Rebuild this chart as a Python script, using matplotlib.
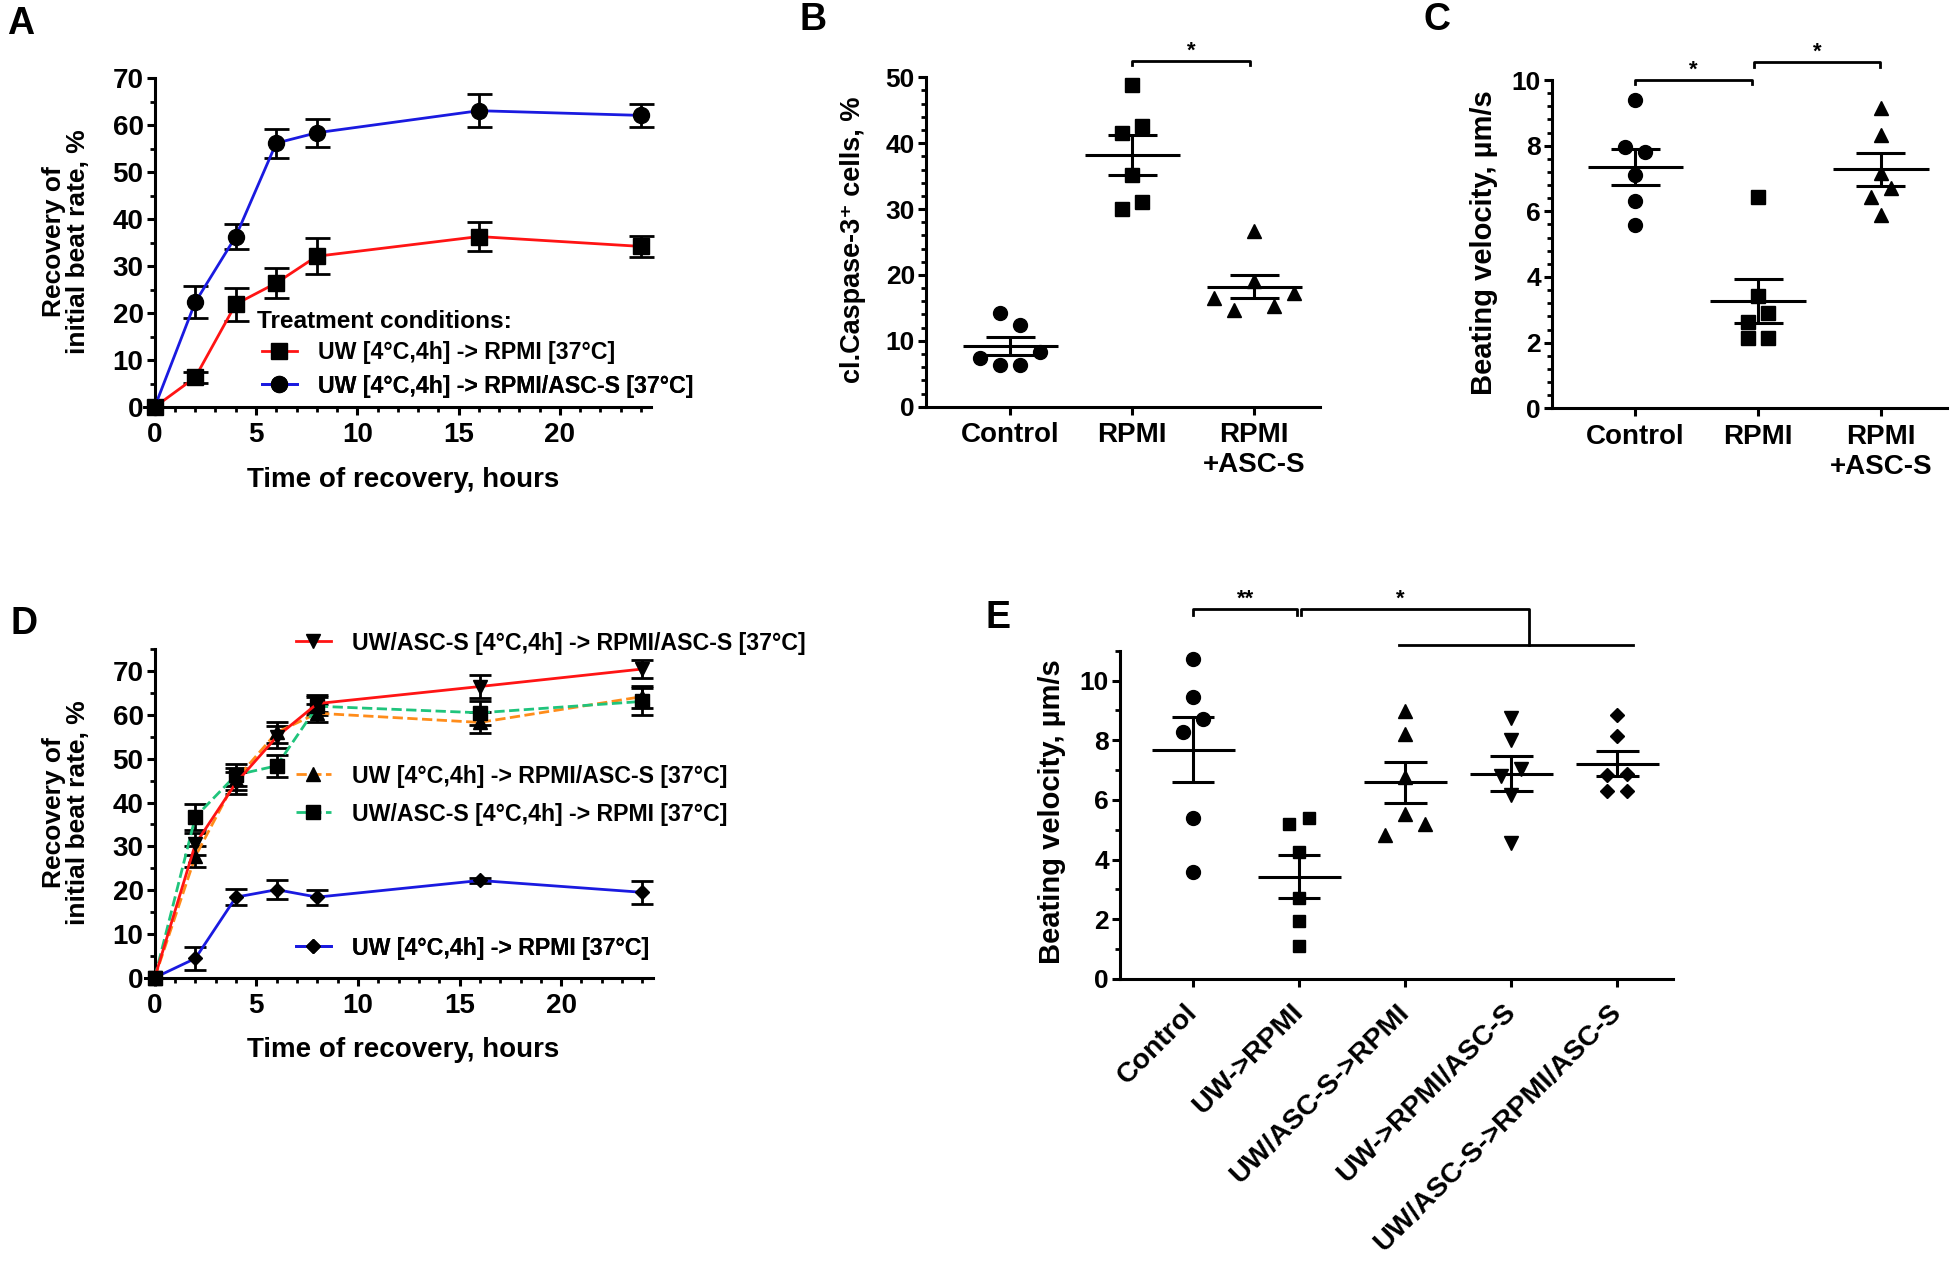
import numpy as np
import matplotlib
matplotlib.use("Agg")
import matplotlib.pyplot as plt
from matplotlib.ticker import MultipleLocator, AutoMinorLocator

plt.rcParams["font.family"] = ["Liberation Sans", "DejaVu Sans"]
plt.rcParams["font.weight"] = "bold"
plt.rcParams["axes.labelweight"] = "bold"

# %%
# Data (means / SEM for the time courses, single
# wells for the dot plots).
hours = [0, 2, 4, 6, 8, 16, 24]

# panel A
a_rpmi = [0, 6.3, 21.9, 26.4, 32.1, 36.3, 34.2]
a_rpmi_sem = [0, 1.2, 3.5, 3.1, 3.8, 3.1, 2.3]
a_asc = [0, 22.3, 36.3, 56.2, 58.4, 63.1, 62.1]
a_asc_sem = [0, 3.4, 2.7, 3.1, 3.0, 3.5, 2.5]
a_labels = ["UW [4°C,4h] -> RPMI [37°C]", "UW [4°C,4h] -> RPMI/ASC-S [37°C]"]

# panel B: cleaved caspase-3 positive cells, %
b_groups = ["Control", "RPMI", "RPMI\n+ASC-S"]
b_control = [14.2, 12.4, 7.4, 6.3, 6.3, 8.35]
b_rpmi = [48.8, 41.5, 42.6, 35.2, 30.0, 31.1]
b_asc = [26.6, 16.5, 14.7, 19.1, 15.3, 17.2]

# panel C: beating velocity, um/s
c_groups = ["Control", "RPMI", "RPMI\n+ASC-S"]
c_control = [9.39, 7.97, 7.82, 7.11, 6.31, 5.58]
c_rpmi = [6.45, 3.42, 2.64, 2.89, 2.13, 2.13]
c_asc = [9.14, 8.32, 7.16, 6.45, 6.70, 5.89]

# panel D
d_asc_asc = [0, 30.5, 44.5, 55.0, 62.6, 66.5, 70.5]
d_asc_asc_sem = [0, 2.5, 2.5, 2.5, 2.0, 2.6, 2.0]
d_uw_asc = [0, 27.7, 45.3, 56.0, 60.4, 58.3, 64.2]
d_uw_asc_sem = [0, 2.4, 2.5, 2.5, 2.0, 2.4, 2.5]
d_asc_rpmi = [0, 36.7, 46.3, 48.4, 62.0, 60.5, 63.1]
d_asc_rpmi_sem = [0, 3.0, 2.6, 2.5, 2.0, 2.8, 3.0]
d_uw_rpmi = [0, 4.4, 18.4, 20.1, 18.4, 22.2, 19.5]
d_uw_rpmi_sem = [0, 2.6, 1.8, 2.2, 1.7, 0.6, 2.6]
d_labels = [
    "UW/ASC-S [4°C,4h] -> RPMI/ASC-S [37°C]",
    "UW [4°C,4h] -> RPMI/ASC-S [37°C]",
    "UW/ASC-S [4°C,4h] -> RPMI [37°C]",
    "UW [4°C,4h] -> RPMI [37°C]",
]

# panel E: beating velocity, um/s
e_groups = ["Control", "UW->RPMI", "UW/ASC-S->RPMI", "UW->RPMI/ASC-S",
            "UW/ASC-S->RPMI/ASC-S"]
e_control = [10.73, 9.44, 8.28, 8.71, 5.38, 3.59]
e_uw_rpmi = [5.18, 5.38, 4.25, 2.71, 1.96, 1.12]
e_asc_rpmi = [8.99, 8.21, 6.77, 4.84, 5.54, 5.18]
e_uw_asc = [8.73, 8.0, 6.80, 7.05, 6.17, 4.56]
e_asc_asc = [8.86, 8.13, 6.83, 6.86, 6.30, 6.30]

# %%
W, H = 1950, 1264
fig = plt.figure(figsize=(W / 100, H / 100), dpi=100)

RED, BLUE = "#ff1414", "#1a1ae0"
ORANGE, GREEN = "#ff8c1a", "#1fc47c"
LW = 2.2


def axes_px(left, top, right, bottom):
    return fig.add_axes([left / W, 1 - bottom / H, (right - left) / W,
                         (bottom - top) / H])


def prism(ax, ysize=19):
    """GraphPad-like axes: open frame, thick spines, ticks pointing out."""
    for s in ("top", "right"):
        ax.spines[s].set_visible(False)
    for s in ("left", "bottom"):
        ax.spines[s].set_linewidth(LW)
    ax.tick_params(which="major", direction="out", length=6, width=LW,
                   labelsize=ysize, pad=2)
    ax.tick_params(which="minor", direction="out", length=3.5, width=2.0)
    ax.tick_params(axis="x", pad=5)


def ftext(x, y, s, **kw):
    fig.text(x / W, 1 - y / H, s, ha="center", va="center", **kw)


def key(ax, line, label, x, y):
    leg = ax.legend([line], [label], loc="center left",
                    bbox_to_anchor=(x / W, 1 - y / H),
                    bbox_transform=fig.transFigure, frameon=False,
                    handlelength=1.5, handletextpad=0.9, borderpad=0,
                    borderaxespad=0, fontsize=16.7, numpoints=1)
    ax.add_artist(leg)


def course(ax, y, err, color, marker, ms, ls="-", cap=8):
    eb = ax.errorbar(hours, y, yerr=err, color=color, lw=2, ls=ls,
                     marker=marker, ms=ms, mfc="black", mec="black",
                     ecolor="black", elinewidth=2, capsize=cap, capthick=2,
                     zorder=3)
    eb.lines[0].set_clip_on(False)
    for art in list(eb.lines[1]) + list(eb.lines[2]):
        art.set_clip_on(False)
    return eb.lines[0]


def spread(ax, xc, vals, step_px=20, gap_px=13):
    """Put near-equal values side by side in centred rows (Prism-style)."""
    tr = ax.transData.transform
    ypx = np.array([tr((0, v))[1] for v in vals])
    px_unit = tr((1, 0))[0] - tr((0, 0))[0]
    rows = []
    for i in np.argsort(ypx, kind="stable"):
        if rows and ypx[i] - ypx[rows[-1][-1]] < gap_px:
            rows[-1].append(i)
        else:
            rows.append([i])
    xs = np.full(len(vals), float(xc))
    for row in rows:
        row = sorted(row)
        for k, i in enumerate(row):
            xs[i] += (k - (len(row) - 1) / 2) * step_px / px_unit
    return xs


def dots(ax, xc, vals, marker, ms):
    vals = np.asarray(vals, float)
    ax.plot(spread(ax, xc, vals), vals, ls="none", marker=marker, ms=ms,
            color="black", clip_on=False, zorder=3)
    m = vals.mean()
    s = vals.std(ddof=1) / np.sqrt(len(vals))
    ax.hlines(m, xc - 0.39, xc + 0.39, color="black", lw=LW, zorder=4)
    ax.vlines(xc, m - s, m + s, color="black", lw=LW, zorder=4)
    ax.hlines([m - s, m + s], xc - 0.2, xc + 0.2, color="black", lw=LW,
              zorder=4)


def bracket(ax, x1, x2, y, drop, text, xt=None, drop2=None):
    drop2 = drop if drop2 is None else drop2
    ax.plot([x1, x1, x2, x2], [y - drop, y, y, y - drop2], color="black",
            lw=2, clip_on=False)
    ax.annotate(text, xy=((x1 + x2) / 2 if xt is None else xt, y),
                xytext=(0, 3), textcoords="offset points", ha="center",
                va="baseline", fontsize=16, annotation_clip=False)


def category_axis(ax, groups, xlim, rot=0):
    ax.set_xlim(*xlim)
    ax.set_xticks(range(len(groups)))
    if rot:
        ax.set_xticklabels(groups, fontsize=20.5, rotation=rot, ha="right",
                           va="center", rotation_mode="anchor")
        ax.tick_params(axis="x", pad=15)
    else:
        ax.set_xticklabels(groups, fontsize=20)


# %%
# A: recovery of beat rate after UW storage
ax = axes_px(154.7, 78.3, 651, 407)
prism(ax, 20)
ax.set_xlim(0, 24.5)
ax.set_ylim(0, 70)
ax.xaxis.set_major_locator(MultipleLocator(5))
ax.xaxis.set_minor_locator(AutoMinorLocator(5))
ax.yaxis.set_major_locator(MultipleLocator(10))
ax.yaxis.set_minor_locator(AutoMinorLocator(2))
la = course(ax, a_rpmi, a_rpmi_sem, RED, "s", 11.5, cap=9)
lb = course(ax, a_asc, a_asc_sem, BLUE, "o", 11.5, cap=9)
fig.text(257 / W, 1 - 322 / H, "Treatment conditions:", ha="left",
         va="center", fontsize=17.6)
key(ax, la, a_labels[0], 262, 353)
key(ax, lb, a_labels[1], 262, 386)
ftext(66, 242, "Recovery of\ninitial beat rate, %", rotation=90,
      fontsize=19, linespacing=1.0)
ftext(403.5, 480, "Time of recovery, hours", fontsize=20)

# B: apoptosis
ax = axes_px(926, 77.3, 1320, 406.7)
prism(ax)
ax.set_ylim(0, 50)
ax.yaxis.set_major_locator(MultipleLocator(10))
ax.yaxis.set_minor_locator(AutoMinorLocator(5))
category_axis(ax, b_groups, (-0.69, 2.54))
dots(ax, 0, b_control, "o", 10)
dots(ax, 1, b_rpmi, "s", 9.6)
dots(ax, 2, b_asc, "^", 9.8)
bracket(ax, 1.0, 1.97, 52.5, 0.7, "*")
ftext(853, 240, "cl.Caspase-3⁺ cells, %", rotation=90, fontsize=19.5)

# C: beating velocity
ax = axes_px(1552, 80, 1947, 408.3)
prism(ax)
ax.set_ylim(0, 10)
ax.yaxis.set_major_locator(MultipleLocator(2))
ax.yaxis.set_minor_locator(AutoMinorLocator(5))
category_axis(ax, c_groups, (-0.68, 2.54))
dots(ax, 0, c_control, "o", 10)
dots(ax, 1, c_rpmi, "s", 9.6)
dots(ax, 2, c_asc, "^", 9.8)
bracket(ax, 0.0, 0.95, 10.0, 0.13, "*")
bracket(ax, 0.97, 1.99, 10.56, 0.15, "*")
ftext(1484, 243, "Beating velocity, µm/s", rotation=90, fontsize=21)

# D: ASC-S during storage and/or recovery
ax = axes_px(154.7, 649.3, 652.6, 977.7)
prism(ax, 20)
ax.set_xlim(0, 24.5)
ax.set_ylim(0, 75)
ax.xaxis.set_major_locator(MultipleLocator(5))
ax.xaxis.set_minor_locator(AutoMinorLocator(5))
ax.set_yticks(range(0, 71, 10))
ax.yaxis.set_minor_locator(MultipleLocator(5))
l4 = course(ax, d_uw_rpmi, d_uw_rpmi_sem, BLUE, "D", 7)
l2 = course(ax, d_uw_asc, d_uw_asc_sem, ORANGE, "^", 10, ls="--")
l3 = course(ax, d_asc_rpmi, d_asc_rpmi_sem, GREEN, "s", 10, ls="--")
l1 = course(ax, d_asc_asc, d_asc_asc_sem, RED, "v", 10)
for line, label, y in zip([l1, l2, l3, l4], d_labels, [643, 776, 814, 948]):
    key(ax, line, label, 296, y)
ftext(66, 813, "Recovery of\ninitial beat rate, %", rotation=90,
      fontsize=19, linespacing=1.0)
ftext(403, 1050, "Time of recovery, hours", fontsize=20)

# E: beating velocity, all storage/recovery combinations
ax = axes_px(1120, 650.7, 1672.6, 979)
prism(ax)
ax.set_ylim(0, 11)
ax.yaxis.set_major_locator(MultipleLocator(2))
ax.yaxis.set_minor_locator(AutoMinorLocator(2))
category_axis(ax, e_groups, (-0.69, 4.52), rot=45)
dots(ax, 0, e_control, "o", 10)
dots(ax, 1, e_uw_rpmi, "s", 9.2)
dots(ax, 2, e_asc_rpmi, "^", 9.8)
dots(ax, 3, e_uw_asc, "v", 9.8)
dots(ax, 4, e_asc_asc, "D", 6.7)
bracket(ax, 0.0, 0.98, 12.41, 0.22, "**")
bracket(ax, 1.02, 3.17, 12.41, 0.22, "*", xt=1.95, drop2=12.41 - 11.2)
ax.plot([1.94, 4.15], [11.2, 11.2], color="black", lw=2, clip_on=False)
ftext(1052, 812, "Beating velocity, µm/s", rotation=90, fontsize=21)

# panel letters
for letter, x, y in [("A", 21, 24), ("B", 813, 20), ("C", 1437, 20),
                     ("D", 24, 624), ("E", 998, 618)]:
    ftext(x, y, letter, fontsize=27)

fig.savefig("out.png", dpi=100)
